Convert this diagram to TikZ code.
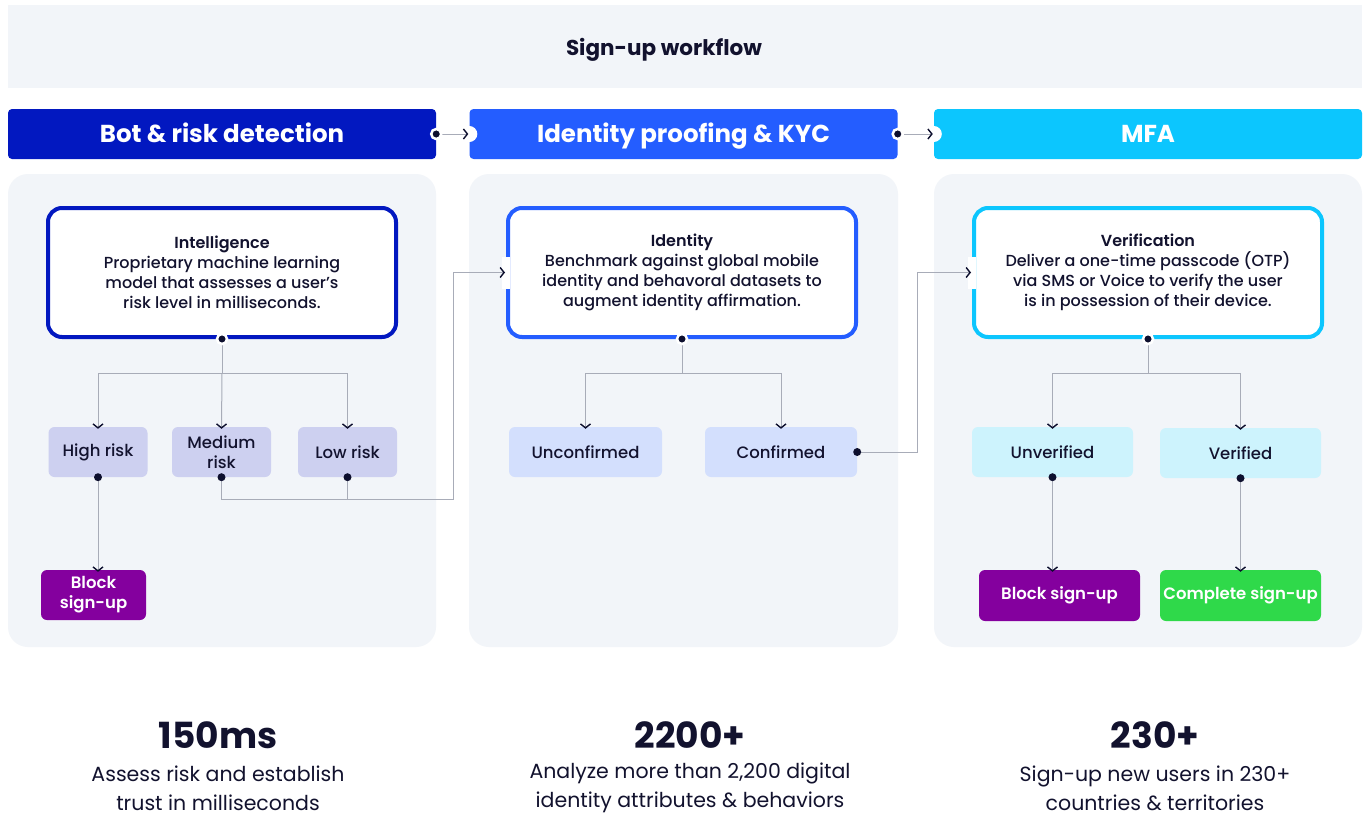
\documentclass[tikz,border=0pt]{standalone}
\usepackage{fontspec}
\setmainfont{Poppins}
\newfontfamily\medfont{Poppins Medium}
\newfontfamily\semifont{Poppins SemiBold}
\usetikzlibrary{arrows.meta}
\definecolor{bgc}{HTML}{F2F5F9}
\definecolor{txt}{HTML}{12122E}
\definecolor{hA}{HTML}{0218C0}
\definecolor{hB}{HTML}{245DFF}
\definecolor{hC}{HTML}{0CC6FE}
\definecolor{fA}{HTML}{CDD0F0}
\definecolor{fB}{HTML}{D3DFFD}
\definecolor{fC}{HTML}{CDF3FD}
\definecolor{purp}{HTML}{84009E}
\definecolor{grn}{HTML}{2FD94A}
\definecolor{linec}{HTML}{A8ACB8}
\definecolor{dotc}{HTML}{0D0F2E}
\tikzset{
  header/.style={rounded corners=4pt, minimum width=428pt, minimum height=50pt, text=white, font=\fontsize{24.5}{28}\selectfont\bfseries, inner sep=0pt, text height=17pt, text depth=0pt},
  panel/.style={fill=bgc, rounded corners=20pt},
  mainbox/.style={draw=#1, fill=white, line width=4pt, rounded corners=14pt, minimum width=348pt, minimum height=129pt, align=center, text=txt, font=\fontsize{16}{20}\selectfont\medfont, inner sep=0pt},
  smallbox/.style={fill=#1, rounded corners=6pt, minimum height=50pt, align=center, text=txt, font=\fontsize{16.5}{20}\selectfont\medfont, inner sep=0pt},
  endbox/.style={fill=#1, rounded corners=6pt, minimum height=51pt, align=center, text=white, font=\fontsize{16.5}{20}\selectfont\semifont, inner sep=0pt},
  conn/.style={draw=linec, line width=1pt},
  arr/.style={-{Straight Barb[length=4pt,width=10pt,line width=1.4pt,color=dotc]}},
  dotn/.style={fill=dotc, draw=white, line width=2.5pt},
  stat/.style={text=txt, font=\fontsize{36}{40}\selectfont\bfseries},
  statd/.style={text=txt, align=center, font=\fontsize{20.5}{29}\selectfont},
}
\begin{document}
\begin{tikzpicture}[x=1pt,y=-1pt]
\useasboundingbox (0,0) rectangle (1364,816);
\fill[white] (0,0) rectangle (1364,816);
% title band
\fill[bgc] (8,5) rectangle (1362,88);
\node[text=txt, font=\fontsize{21.5}{24}\selectfont\bfseries, text height=15pt, text depth=0pt] (title) at (664,48) {Sign-up workflow};
% headers
\node[header, fill=hA] (h1) at (222,134) {Bot \& risk detection};
\node[header, fill=hB] (h2) at (683.5,134) {Identity proofing \& KYC};
\node[header, fill=hC] (h3) at (1148,134) {MFA};
% panels
\fill[panel] (8,174) rectangle (436,647);
\fill[panel] (469,174) rectangle (898,647);
\fill[panel] (934,174) rectangle (1362,647);
% main boxes
\node[mainbox=hA] (intel) at (222,272.5) {{\semifont Intelligence}\\Proprietary machine learning\\model that assesses a user’s\\risk level in milliseconds.};
\node[mainbox=hB] (ident) at (682,272.5) {{\semifont Identity}\\Benchmark against global mobile\\identity and behavoral datasets to\\augment identity affirmation.};
\node[mainbox=hC] (verif) at (1148,272.5) {{\semifont Verification}\\Deliver a one-time passcode (OTP)\\via SMS or Voice to verify the user\\is in possession of their device.};
% risk boxes
\node[smallbox=fA, minimum width=99pt] (high) at (98,452) {High risk};
\node[smallbox=fA, minimum width=99pt] (med) at (221.5,452) {Medium\\risk};
\node[smallbox=fA, minimum width=99pt] (low) at (347.5,452) {Low risk};
\node[endbox=purp, minimum width=105pt, minimum height=50pt] (blk1) at (93.5,595) {Block\\sign-up};
% identity children
\node[smallbox=fB, minimum width=153pt] (unconf) at (585.5,452) {Unconfirmed};
\node[smallbox=fB, minimum width=152pt] (conf) at (781,452) {Confirmed};
% MFA children
\node[smallbox=fC, minimum width=161pt] (unver) at (1052.5,452) {Unverified};
\node[smallbox=fC, minimum width=161pt] (ver) at (1240.5,453) {Verified};
\node[endbox=purp, minimum width=161pt] (blk2) at (1059.5,595.5) {Block sign-up};
\node[endbox=grn, minimum width=161pt] (comp) at (1240.5,595.5) {Complete sign-up};
% gaps in borders where arrows enter
\fill[white] ([xshift=-4pt,yshift=-16pt]ident.west) rectangle ([xshift=4pt,yshift=16pt]ident.west);
\fill[white] ([xshift=-4pt,yshift=-16pt]verif.west) rectangle ([xshift=4pt,yshift=16pt]verif.west);
% junction coordinates
\coordinate (j1) at (222,373);
\coordinate (j2) at (682,373);
\coordinate (j3) at (1148,373);
\coordinate (m1) at (453,499);
\coordinate (c1) at (917,452);
% connectors column 1
\draw[conn] (intel.south) -- (j1);
\draw[conn,arr] (j1) -| ([yshift=-2pt]high.north);
\draw[conn,arr] (j1) -- ([yshift=-2pt]med.north);
\draw[conn,arr] (j1) -| ([yshift=-2pt]low.north);
\draw[conn,arr] (high.south) -- ([yshift=-2pt,xshift=4.5pt]blk1.north);
\draw[conn] (low.south) -- (low.south |- m1);
\draw[conn,arr] (med.south) |- (m1) |- ([xshift=-1pt]ident.west);
% connectors column 2
\draw[conn] (ident.south) -- (j2);
\draw[conn,arr] (j2) -| ([yshift=-2pt]unconf.north);
\draw[conn,arr] (j2) -| ([yshift=-2pt]conf.north);
\draw[conn,arr] (conf.east) -- (c1) |- ([xshift=-1pt]verif.west);
% connectors column 3
\draw[conn] (verif.south) -- (j3);
\draw[conn,arr] (j3) -| ([yshift=-2pt]unver.north);
\draw[conn,arr] (j3) -| ([yshift=-2pt]ver.north);
\draw[conn,arr] (unver.south) -- ([yshift=-2pt,xshift=-7pt]blk2.north);
\draw[conn,arr] (ver.south) -- ([yshift=-2pt]comp.north);
% header connectors
\fill[white] (h2.west) circle (8);
\fill[white] (h3.west) circle (8);
\draw[conn,arr] (h1.east) -- ([xshift=-1pt]h2.west);
\draw[conn,arr] (h2.east) -- ([xshift=-1pt]h3.west);
% dots
\filldraw[dotn] (h1.east) circle (5);
\filldraw[dotn] (h2.east) circle (5);
\filldraw[dotn] (intel.south) circle (5);
\filldraw[dotn] (ident.south) circle (5);
\filldraw[dotn] (verif.south) circle (5);
\fill[dotc] (high.south) circle (4);
\fill[dotc] (med.south) circle (4);
\fill[dotc] (low.south) circle (4);
\fill[dotc] (conf.east) circle (4);
\fill[dotc] (unver.south) circle (4);
\fill[dotc] (ver.south) circle (4);
% stats
\node[stat] (s1) at (218,735) {150ms};
\node[statd] (d1) at (218,788) {Assess risk and establish\\trust in milliseconds};
\node[stat] (s2) at (690,735) {2200+};
\node[statd] (d2) at (690,788) {Analyze more than 2,200 digital\\identity attributes \& behaviors};
\node[stat] (s3) at (1155,735) {230+};
\node[statd] (d3) at (1155,788) {Sign-up new users in 230+\\countries \& territories};
\end{tikzpicture}
\end{document}
